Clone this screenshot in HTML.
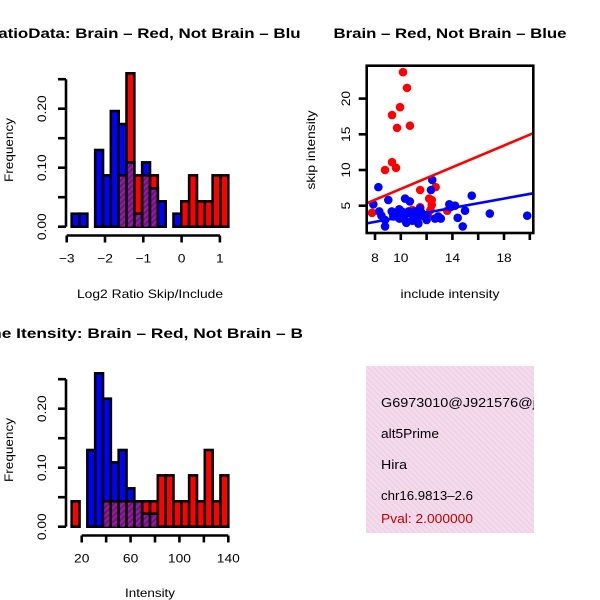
<!DOCTYPE html>
<html><head><meta charset="utf-8"><style>
html,body{margin:0;padding:0;background:#fff;}
svg{display:block;font-family:"Liberation Sans",sans-serif;}
</style></head><body>
<svg id="c" width="600" height="600" viewBox="0 0 600 600">
<defs>
<pattern id="pp" width="4" height="4" patternUnits="userSpaceOnUse" patternTransform="rotate(45)">
<rect width="4" height="4" fill="#9a1aa0"/><rect width="2" height="4" fill="#6e1280"/></pattern>
<pattern id="pk" width="4" height="4" patternUnits="userSpaceOnUse" patternTransform="rotate(-45)">
<rect width="4" height="4" fill="#f8d8f0"/><rect width="1" height="4" fill="#e0d6d4"/></pattern>
<clipPath id="lc"><rect x="0" y="0" width="300" height="600"/></clipPath>
<clipPath id="lc2"><rect x="0" y="0" width="302" height="600"/></clipPath>
</defs>
<g clip-path="url(#lc)">
<text x="148" y="38" font-size="14" font-weight="bold" text-anchor="middle" textLength="324" lengthAdjust="spacingAndGlyphs">RatioData: Brain – Red, Not Brain – Blue</text>
</g>
<g clip-path="url(#lc2)">
<text x="148" y="338" font-size="14" font-weight="bold" text-anchor="middle" textLength="360" lengthAdjust="spacingAndGlyphs">Gene Itensity: Brain – Red, Not Brain – Blue</text>
</g>
<text x="450" y="38" font-size="14" font-weight="bold" text-anchor="middle" textLength="233" lengthAdjust="spacingAndGlyphs">Brain – Red, Not Brain – Blue</text>
<text x="150" y="298" font-size="12" text-anchor="middle" textLength="146" lengthAdjust="spacingAndGlyphs">Log2 Ratio Skip/Include</text>
<text x="150" y="597" font-size="12" text-anchor="middle" textLength="50" lengthAdjust="spacingAndGlyphs">Intensity</text>
<text x="450" y="298" font-size="12" text-anchor="middle" textLength="99" lengthAdjust="spacingAndGlyphs">include intensity</text>
<text transform="translate(13,150) rotate(-90)" font-size="12" text-anchor="middle" textLength="64" lengthAdjust="spacingAndGlyphs">Frequency</text>
<text transform="translate(13,450) rotate(-90)" font-size="12" text-anchor="middle" textLength="64" lengthAdjust="spacingAndGlyphs">Frequency</text>
<text transform="translate(315,150) rotate(-90)" font-size="12" text-anchor="middle" textLength="79" lengthAdjust="spacingAndGlyphs">skip intensity</text>
<g id="h1"></g>
<g id="h2"></g>
<g id="sc"></g>
<g>
<rect x="366" y="366" width="168" height="167" fill="url(#pk)"/>
<svg x="366" y="366" width="168" height="167" overflow="hidden">
<text x="15" y="41" font-size="12.5" textLength="163" lengthAdjust="spacingAndGlyphs">G6973010@J921576@j_</text>
<text x="15" y="72" font-size="12.5" textLength="58" lengthAdjust="spacingAndGlyphs">alt5Prime</text>
<text x="15" y="103" font-size="12.5" textLength="26" lengthAdjust="spacingAndGlyphs">Hira</text>
<text x="15" y="134" font-size="12.5" textLength="92" lengthAdjust="spacingAndGlyphs">chr16.9813–2.6</text>
<text x="15" y="157" font-size="12.5" fill="#c00000" textLength="92" lengthAdjust="spacingAndGlyphs">Pval: 2.000000</text>
</svg>
</g>
</svg>
<script>
// Ratio histogram data
const ratioStart = -2.87, ratioBinW = 0.2045;
const ratioBlue = [0.022,0.022,0,0.13,0.087,0.196,0.174,0.109,0.022,0.109,0.065,0.043,0,0.022,0,0,0,0,0,0];
const ratioRed  = [0,0,0,0,0,0,0.087,0.26,0.087,0.087,0.087,0,0,0,0.043,0.087,0.043,0.043,0.087,0.087];
const ratioXTicks = [-3,-2,-1,0,1];
const freqTicks = [0,0.05,0.10,0.15,0.20,0.25];
const freqLabels = ["0.00","","0.10","","0.20",""];
// Intensity histogram data
const intStart = 11.8, intBinW = 6.41;
const intBlue = [0,0,0.13,0.26,0.217,0.109,0.13,0.065,0.043,0.022,0.022,0,0,0,0,0,0,0,0,0];
const intRed  = [0.043,0,0,0,0.043,0.043,0.043,0.043,0.043,0.043,0.043,0.087,0.087,0.043,0.043,0.087,0.043,0.13,0.043,0.087];
const intXTicks = [20,40,60,80,100,120,140];
const intXLabels = ["20","","60","","100","","140"];
// Scatter data
const redX = [10.17,10.48,9.94,9.32,9.71,10.71,9.32,8.78,9.63,11.5,12.7,12.4,12.4,12.3,11.5,13.6,7.77,10.9,12.1,12.2];
const redY = [23.7,21.5,18.8,17.7,15.9,16.2,11.1,10.0,10.3,7.2,7.6,5.8,5.1,4.4,4.8,4.3,4.0,4.4,3.7,6.0];
const blueX = [8.26,9.03,7.87,8.33,8.78,8.78,9.42,9.88,10.33,10.7,10.33,10.97,11.36,11.5,12.0,12.44,12.34,12.65,13.1,13.76,14.2,14.41,14.8,14.98,15.5,16.9,19.8,10.07,9.3,10.6,11.1,11.6,9.65,10.43,12.0,13.86,8.5,9.9,10.9,11.9,12.9,10.2,11.3];
const blueY = [7.6,5.8,5.2,4.2,3.0,2.1,3.5,4.5,6.0,5.6,3.0,3.5,2.5,4.6,3.7,8.6,7.2,3.2,3.2,5.2,5.0,3.3,2.1,4.3,6.4,3.9,3.6,4.2,4.2,4.2,4.2,4.0,3.5,2.6,3.0,4.8,3.6,3.2,2.9,3.4,3.5,3.8,3.1];
const redFit = [-0.25, 0.76];   // intercept, slope
const blueFit = [0.13, 0.326];
const scXTicks = [8,10,12,14,16,18,20];
const scXLabels = ["8","10","","14","","18",""];
const scYTicks = [5,10,15,20];

const NS = "http://www.w3.org/2000/svg";
function mk(parent, tag, attrs){const e=document.createElementNS(NS,tag);for(const k in attrs)e.setAttribute(k,attrs[k]);parent.appendChild(e);return e;}

function hist(gid, start, w, blue, red, xTicks, xLabels, top, xName){
  const g=document.getElementById(gid);
  const y0=top+166.7, ppu=590;
  const fy=v=>y0-v*ppu;
  const x0=71.7, pxBin=7.83;
  const fx=v=>x0+(v-start)/w*pxBin;
  for(let i=0;i<blue.length;i++){
    const b=blue[i], r=red[i];
    const xl=fx(start+i*w), xr=fx(start+(i+1)*w);
    const mx=Math.max(b,r), mn=Math.min(b,r);
    if(mx>0){
      const rc=mk(g,'rect',{x:xl,y:fy(mx),width:xr-xl,height:fy(0)-fy(mx),fill:(b>=r?'#0000ff':'#ff0000'),stroke:'#000','stroke-width':2.6});
      
      
    }
    if(mn>0){
      if(b>0&&r>0&&b!==r){
        const lo=mk(g,'rect',{x:xl,y:fy(mn),width:xr-xl,height:fy(0)-fy(mn),fill:(b<r?'#0000ff':'#ff0000'),stroke:'#000','stroke-width':2.6});
        
        
      }
      const pr=mk(g,'rect',{x:xl+1.3,y:fy(mn)+1.3,width:xr-xl-2.6,height:fy(0)-fy(mn)-1.3,fill:'url(#pp)'});
      
      
    }
  }
  const ya=mk(g,'line',{x1:66,x2:66,y1:fy(0.25),y2:fy(0),stroke:'#000','stroke-width':2.6});
  
  
  freqTicks.forEach((t,i)=>{
    mk(g,'line',{x1:58,x2:66,y1:fy(t),y2:fy(t),stroke:'#000','stroke-width':2.6});
    if(freqLabels[i]){
      const tx=mk(g,'text',{transform:`translate(46,${fy(t)}) rotate(-90) scale(1.15,1)`,'font-size':12,'text-anchor':'middle'});
      tx.textContent=freqLabels[i];
      
      
    }
  });
  const xaY=top+175.5;
  const xa=mk(g,'line',{x1:fx(xTicks[0]),x2:fx(xTicks[xTicks.length-1]),y1:xaY,y2:xaY,stroke:'#000','stroke-width':2.6});
  
  
  xTicks.forEach((t,i)=>{
    mk(g,'line',{x1:fx(t),x2:fx(t),y1:xaY,y2:xaY+7,stroke:'#000','stroke-width':2.6});
    if(xLabels[i]){
      const tx=mk(g,'text',{transform:`translate(${fx(t)},${xaY+27}) scale(1.15,1)`,'font-size':12,'text-anchor':'middle'});
      tx.textContent=xLabels[i];
      
      
    }
  });
}
hist('h1',ratioStart,ratioBinW,ratioBlue,ratioRed,ratioXTicks,ratioXTicks.map(String).map(s=>s.replace('-','−')),60,'x-axis');
hist('h2',intStart,intBinW,intBlue,intRed,intXTicks,intXLabels,360,'x-axis');

(function(){
  const g=document.getElementById('sc');
  const sx=v=>375+(v-8)*12.9, sy=v=>205.7-(v-5)*7.14;
  const L=366.7,R=533.3,T=65.7,B=233;
  const clip=mk(g,'svg',{x:L,y:T,width:R-L,height:B-T,overflow:'hidden',viewBox:`${L} ${T} ${R-L} ${B-T}`});
  redX.forEach((x,i)=>{const c=mk(clip,'circle',{cx:sx(x),cy:sy(redY[i]),r:4.3,fill:'#ff0000'});
    
    });
  blueX.forEach((x,i)=>{const c=mk(clip,'circle',{cx:sx(x),cy:sy(blueY[i]),r:4.3,fill:'#0000ff'});
    
    });
  const xa=7.2, xb=20.5;
  const rl=mk(clip,'line',{x1:sx(xa),y1:sy(redFit[0]+redFit[1]*xa),x2:sx(xb),y2:sy(redFit[0]+redFit[1]*xb),stroke:'#ff0000','stroke-width':2.6});
  
  
  const bl=mk(clip,'line',{x1:sx(xa),y1:sy(blueFit[0]+blueFit[1]*xa),x2:sx(xb),y2:sy(blueFit[0]+blueFit[1]*xb),stroke:'#0000ff','stroke-width':2.6});
  
  
  const box=mk(g,'rect',{x:L,y:T,width:R-L,height:B-T,fill:'none',stroke:'#000','stroke-width':2.6});
  
  
  scXTicks.forEach((t,i)=>{
    mk(g,'line',{x1:sx(t),x2:sx(t),y1:B,y2:B+7,stroke:'#000','stroke-width':2.6});
    if(scXLabels[i]){const tx=mk(g,'text',{transform:`translate(${sx(t)},${B+29}) scale(1.15,1)`,'font-size':12,'text-anchor':'middle'});
      tx.textContent=scXLabels[i];
      
      }
  });
  scYTicks.forEach(t=>{
    mk(g,'line',{x1:L-8,x2:L,y1:sy(t),y2:sy(t),stroke:'#000','stroke-width':2.6});
    const tx=mk(g,'text',{transform:`translate(350,${sy(t)}) rotate(-90) scale(1.15,1)`,'font-size':12,'text-anchor':'middle'});
    tx.textContent=String(t);
    
    
  });
})();
</script>
</body></html>
